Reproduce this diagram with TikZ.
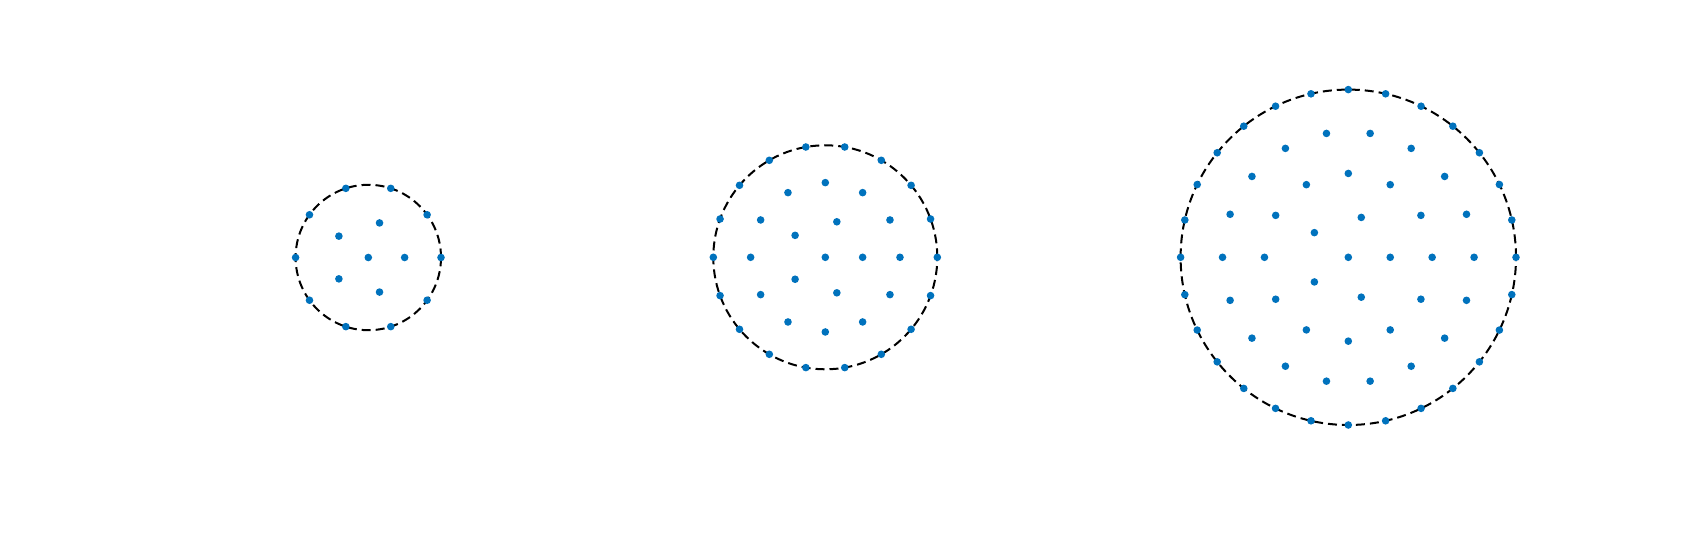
\documentclass[tikz,border=0pt]{standalone}
\definecolor{mblue}{RGB}{0,114,189}
\begin{document}
\begin{tikzpicture}[x=1pt,y=1pt,
  ring/.style={draw=black,line width=2pt,dash pattern=on 9pt off 5pt},
  dot/.style={fill=mblue}]
\useasboundingbox (0,0) rectangle (1692,-534);
% disk 1
\begin{scope}[shift={(368.3,-257.5)}]
  \draw[ring] (0,0) circle[radius=72.7];
  \fill[dot] (0,0) circle[radius=3.8];
  \foreach \k/\m in {1/5,2/10}
    \foreach \j in {1,...,\m}
      \fill[dot] ({360*\j/\m}:{\k*36.35}) circle[radius=3.8];
\end{scope}
% disk 2
\begin{scope}[shift={(825.3,-257.3)}]
  \draw[ring] (0,0) circle[radius=112];
  \fill[dot] (0,0) circle[radius=3.8];
  \foreach \k/\m in {1/5,2/12,3/18}
    \foreach \j in {1,...,\m}
      \fill[dot] ({360*\j/\m}:{\k*37.333}) circle[radius=3.8];
\end{scope}
% disk 3
\begin{scope}[shift={(1348.3,-257.3)}]
  \draw[ring] (0,0) circle[radius=167.7];
  \fill[dot] (0,0) circle[radius=3.8];
  \foreach \k/\m in {1/5,2/12,3/18,4/28}
    \foreach \j in {1,...,\m}
      \fill[dot] ({360*\j/\m}:{\k*41.925}) circle[radius=3.8];
\end{scope}
\end{tikzpicture}
\end{document}
